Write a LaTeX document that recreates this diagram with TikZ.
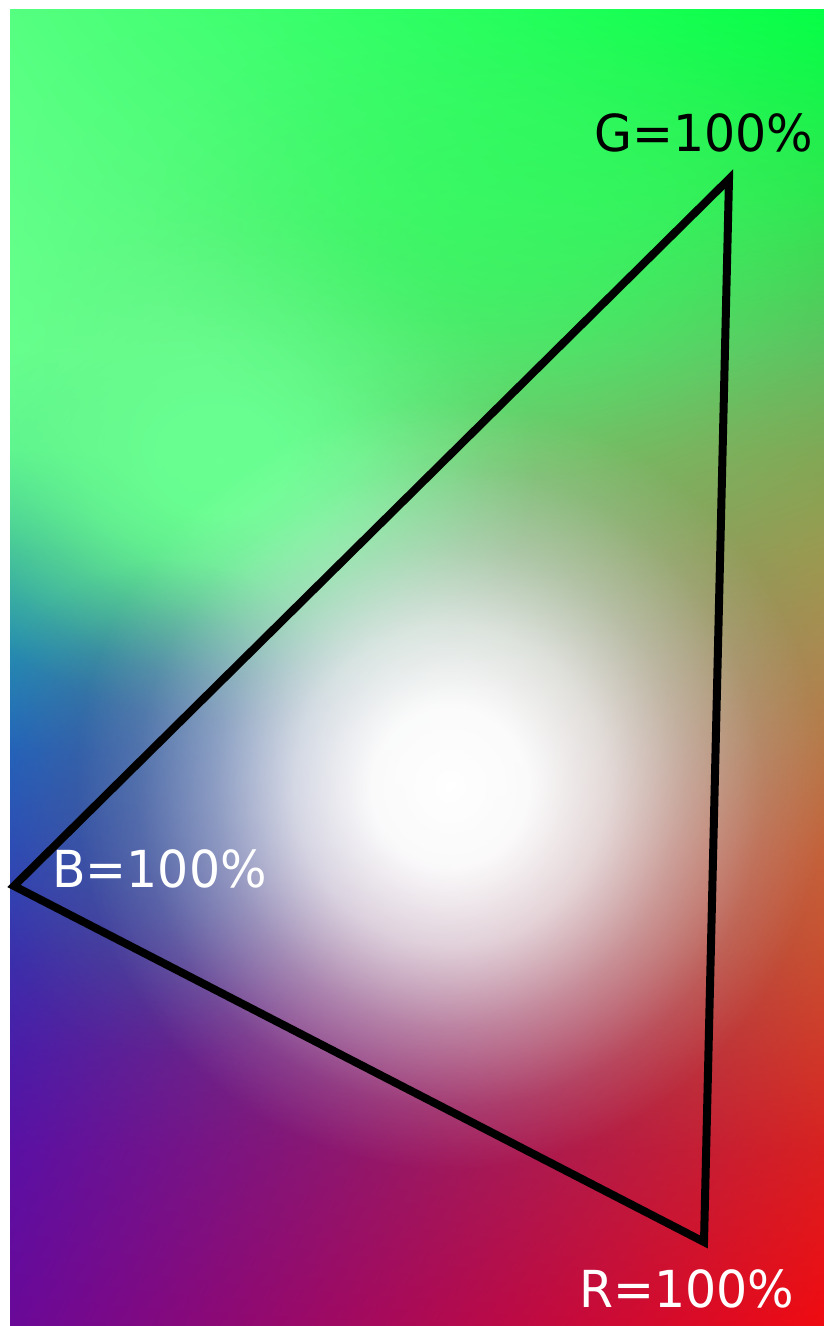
\documentclass[tikz,border=0pt]{standalone}
\usepackage{fontspec}
\setmainfont{DejaVu Sans}[FakeStretch=0.96]
\usetikzlibrary{fadings,shadings}
% left edge colours, top to bottom
\definecolor{LeftA}{HTML}{55FF80}
\definecolor{LeftB}{HTML}{60FF88}
\definecolor{LeftC}{HTML}{66FF8C}
\definecolor{LeftD}{HTML}{5AF08E}
\definecolor{LeftE}{HTML}{3CB49C}
\definecolor{LeftF}{HTML}{268CB0}
\definecolor{LeftG}{HTML}{2264BC}
\definecolor{LeftH}{HTML}{2C4AB8}
\definecolor{LeftI}{HTML}{3A30AC}
\definecolor{LeftJ}{HTML}{4A1CA8}
\definecolor{LeftK}{HTML}{5A10A4}
\definecolor{LeftL}{HTML}{6A0898}
% right edge colours, top to bottom
\definecolor{RightA}{HTML}{05FF46}
\definecolor{RightB}{HTML}{30E650}
\definecolor{RightC}{HTML}{60C060}
\definecolor{RightD}{HTML}{80A855}
\definecolor{RightE}{HTML}{9A9A50}
\definecolor{RightF}{HTML}{AA8A50}
\definecolor{RightG}{HTML}{B87848}
\definecolor{RightH}{HTML}{C4623A}
\definecolor{RightI}{HTML}{C85030}
\definecolor{RightJ}{HTML}{D03828}
\definecolor{RightK}{HTML}{D82020}
\definecolor{RightL}{HTML}{F00A10}
\definecolor{MintGlow}{HTML}{69FF91}
\definecolor{LeafGlow}{HTML}{2CFF5E}
\definecolor{SlateGlow}{HTML}{3A5A9C}
\pgfdeclareradialshading{softglowshade}{\pgfpointorigin}{color(0bp)=(pgftransparent!0); color(5bp)=(pgftransparent!3); color(10bp)=(pgftransparent!25); color(15bp)=(pgftransparent!60); color(20bp)=(pgftransparent!88); color(24bp)=(pgftransparent!100); color(50bp)=(pgftransparent!100)}
\pgfdeclarefading{softglow}{\pgfuseshading{softglowshade}}
\tikzset{
  glow/.style={path fading=softglow},
  label/.style={anchor=base west, inner sep=0pt, font=\fontsize{51}{60}\selectfont},
  gamut/.style={line width=8pt, line join=miter}
}
\begin{document}
\begin{tikzpicture}[x=1pt,y=1pt]
  \fill[white] (0,0) rectangle (824,1326);
  \useasboundingbox (0,0) rectangle (824,1326);
  \begin{scope}
    \clip (10,0) rectangle (824,1316);
    \foreach \ya/\yb/\ca/\cb in {1316/1126/A/B,1126/976/B/C,976/876/C/D,876/776/D/E,776/676/E/F,676/576/F/G,576/476/G/H,476/376/H/I,376/276/I/J,276/176/J/K,176/0/K/L} {
      \shade[upper left=Left\ca,lower left=Left\cb,upper right=Right\ca,lower right=Right\cb] (10,\ya) rectangle (824,\yb-1);
    }
    \fill[MintGlow,glow] (220,866) ellipse (330 and 270);
    \fill[LeafGlow,glow,opacity=0.5] (520,1096) ellipse (380 and 260);
    \fill[SlateGlow,glow,opacity=0.6] (170,516) ellipse (220 and 260);
    \fill[white,glow] (450,540) ellipse (390 and 400);
  \end{scope}
  \coordinate (gtip) at (729,1147);
  \coordinate (btip) at (14,440);
  \coordinate (rtip) at (704,84);
  \draw[gamut] (gtip) -- (btip) -- (rtip) -- cycle;
  \node[label,black] (glabel) at (594,1174) {G=100\%};
  \node[label,white] (blabel) at (52,438) {B=100\%};
  \node[label,white] (rlabel) at (579,18) {R=100\%};
\end{tikzpicture}
\end{document}
